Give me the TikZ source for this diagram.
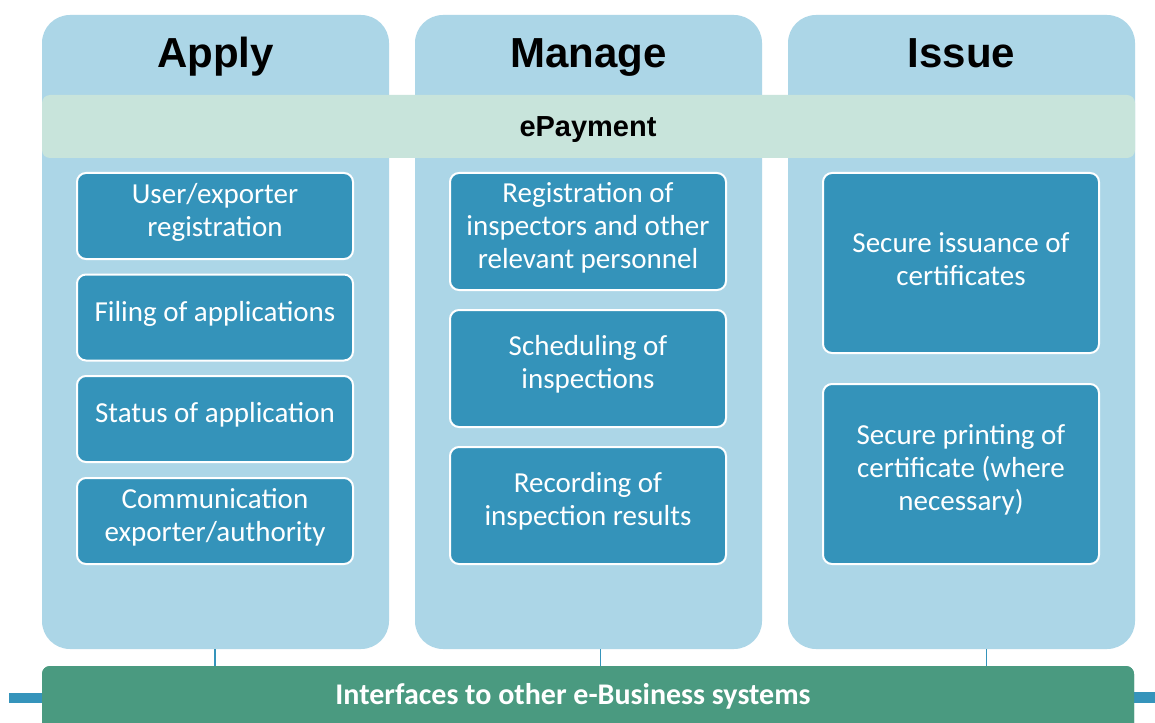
\documentclass[tikz,border=0pt]{standalone}
\usepackage{fontspec}
\setmainfont{Carlito}
\newfontfamily\headfont{Liberation Sans}
\definecolor{colbg}{HTML}{ACD6E7}
\definecolor{paybg}{HTML}{C8E4DB}
\definecolor{boxbg}{HTML}{3493BA}
\definecolor{barbg}{HTML}{4A9A80}
\definecolor{linkc}{HTML}{3594BB}
\tikzset{
  column/.style={fill=colbg, draw=none, rounded corners=28pt, minimum width=347pt, minimum height=634pt, inner sep=0pt},
  heading/.style={font=\headfont\bfseries\fontsize{42}{48}\selectfont, text=black, anchor=base, inner sep=0pt},
  payband/.style={fill=paybg, draw=none, rounded corners=8pt, minimum width=1093pt, minimum height=63pt, inner sep=0pt},
  paytext/.style={font=\headfont\bfseries\fontsize{29}{32}\selectfont, text=black, anchor=base, inner sep=0pt},
  itembox/.style={fill=boxbg, draw=white, line width=2pt, rounded corners=9pt, minimum width=276pt, inner sep=0pt},
  itemtext/.style={font=\fontsize{29}{33}\selectfont, text=white, align=center, inner sep=0pt},
  bottombar/.style={fill=barbg, draw=none, rounded corners=8pt, minimum width=1092pt, minimum height=90pt, inner sep=0pt},
  bartext/.style={font=\bfseries\fontsize{30}{34}\selectfont, text=white, anchor=base, inner sep=0pt},
  conn/.style={draw=linkc, line width=1.2pt},
  sidebar/.style={draw=linkc, line width=10.5pt}
}
\newcommand{\itembox}[5]{%
  \node[itembox, minimum height=#4] (#1) at (#2,#3) {};
  \node[itemtext] (#1t) at ([yshift=4pt]#1.center) {#5};
}
\begin{document}
\begin{tikzpicture}[x=1pt,y=-1pt]
\useasboundingbox (0,0) rectangle (1155,722);
\clip (0,0) rectangle (1155,722);
\fill[white] (0,0) rectangle (1155,722);

% side bars
\coordinate (lb) at (9,698);
\coordinate (rb) at (1155,697.5);

% columns
\node[column] (colA) at (215.5,332) {};
\node[column] (colM) at (588.5,332) {};
\node[column] (colI) at (961.5,332) {};

\node[heading] (hA) at (215.5,68) {Apply};
\node[heading] (hM) at (588.5,68) {Manage};
\node[heading] (hI) at (961.5,68) {Issue};

% ePayment band
\node[payband] (pay) at (588.5,126.5) {};
\node[paytext] (payt) at (588,137) {ePayment};

% Apply boxes
\itembox{a1}{215}{216}{86pt}{User/exporter\\registration}
\itembox{a2}{215}{317.5}{86pt}{Filing of applications}
\itembox{a3}{215}{419}{86pt}{Status of application}
\itembox{a4}{215}{521}{86pt}{Communication\\exporter/authority}

% Manage boxes
\itembox{m1}{588}{231.5}{117pt}{Registration of\\inspectors and other\\relevant personnel}
\itembox{m2}{588}{368.5}{117pt}{Scheduling of\\inspections}
\itembox{m3}{588}{505.5}{117pt}{Recording of\\inspection results}

% Issue boxes
\itembox{i1}{961}{263}{180pt}{Secure issuance of\\certificates}
\itembox{i2}{961}{474}{180pt}{Secure printing of\\certificate (where\\necessary)}

% bottom bar
\coordinate (cA) at (215,649);
\coordinate (cM) at (600.5,649);
\coordinate (cI) at (986.5,649);
\node[bottombar] (bar) at (588,711) {};
\draw[sidebar] (lb) -- (bar.west |- lb);
\draw[sidebar] (bar.east |- rb) -- (rb);
\node[bottombar] (bar2) at (588,711) {};
\draw[conn] (cA) -- (cA |- bar.north);
\draw[conn] (cM) -- (cM |- bar.north);
\draw[conn] (cI) -- (cI |- bar.north);
\node[bartext] (bart) at (573,704) {Interfaces to other e-Business systems};
\end{tikzpicture}
\end{document}
